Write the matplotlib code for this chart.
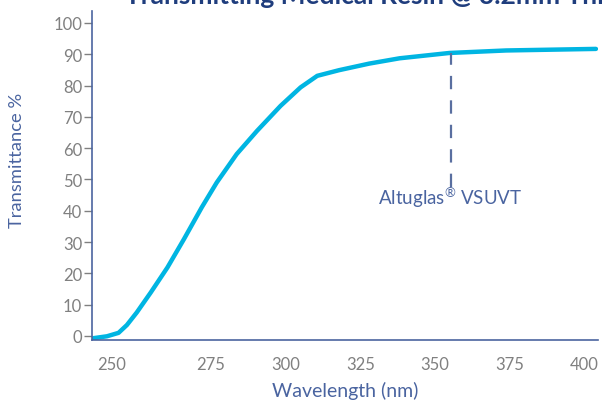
import matplotlib
matplotlib.use("Agg")
import matplotlib.pyplot as plt
import matplotlib.transforms as mtransforms

# transmittance curve
wavelength = [235.6, 240.1, 244.0, 246.8, 250.1, 254.8, 260.4, 265.9, 271.9,
              276.9, 283.6, 290.4, 298.3, 305.0, 310.6, 317.9, 328.0, 338.2,
              354.9, 373.9, 404.0]
transmittance = [-0.7, -0.1, 1.0, 3.5, 7.5, 13.9, 21.9, 30.9, 41.1,
                 49.0, 58.1, 65.5, 73.5, 79.4, 83.1, 84.9, 87.0, 88.7,
                 90.4, 91.2, 91.7]

x_ticks = [250, 275, 300, 325, 350, 375, 400]
y_ticks = [0, 10, 20, 30, 40, 50, 60, 70, 80, 90, 100]

marker_wl = 355.3
marker_top = 90.4
marker_bottom = 47.6
marker_label = r"Altuglas$^{\mathregular{®}}$ VSUVT"

title = "Transmitting Medical Resin @ 3.2mm Thickness"

plt.rcParams['font.family'] = ['Lato', 'DejaVu Sans']
plt.rcParams['mathtext.default'] = 'regular'

navy = '#1f3d7d'
axis_blue = '#4b65a0'
grey = '#808080'
cyan = '#00b5e2'
label_blue = '#4a64a0'

fig = plt.figure(figsize=(6.02, 4.06), dpi=100)
ax = fig.add_axes([0.1528, 0.1589, 0.8406, 0.8115])

ax.plot(wavelength, transmittance, color=cyan, lw=3.2,
        solid_capstyle='round', solid_joinstyle='round')

# dashed marker line + label
ax.plot([marker_wl, marker_wl], [marker_bottom, marker_top], color='#5a6fa0',
        lw=1.6, dashes=(6, 5))
ax.text(marker_wl, marker_bottom - 5.4, marker_label, ha='center', va='baseline',
        fontsize=13.5, color=label_blue)

ax.set_xlim(235.1, 404.7)
ax.set_ylim(-1.44, 103.8)

ax.set_xticks(x_ticks)
ax.set_xticklabels([str(v) for v in x_ticks])
ax.set_yticks(y_ticks)
ax.set_yticklabels([str(v) for v in y_ticks])

ax.tick_params(axis='x', length=0, pad=11, labelsize=12, labelcolor=grey)
ax.tick_params(axis='y', length=6, width=1, color=grey, pad=1,
               labelsize=12, labelcolor=grey)

# first x label sits left of its tick in the reference
shift = mtransforms.ScaledTranslation(-25 / 100, 0, fig.dpi_scale_trans)
first = ax.get_xticklabels()[0]
first.set_transform(first.get_transform() + shift)

for side in ['top', 'right']:
    ax.spines[side].set_visible(False)
for side in ['left', 'bottom']:
    ax.spines[side].set_color(axis_blue)
    ax.spines[side].set_linewidth(1.2)

fig.text(345 / 602, 1 - 391 / 406, "Wavelength (nm)", ha='center', va='center',
         fontsize=14, color=label_blue)
fig.text(17 / 602, 1 - 160 / 406, "Transmittance %", ha='center', va='center',
         rotation=90, fontsize=13.2, color=label_blue)

fig.text(125 / 602, 1 - 4 / 406, title, ha='left', va='baseline',
         fontsize=19, fontweight='bold', color=navy)

fig.savefig("out.png", dpi=100)
